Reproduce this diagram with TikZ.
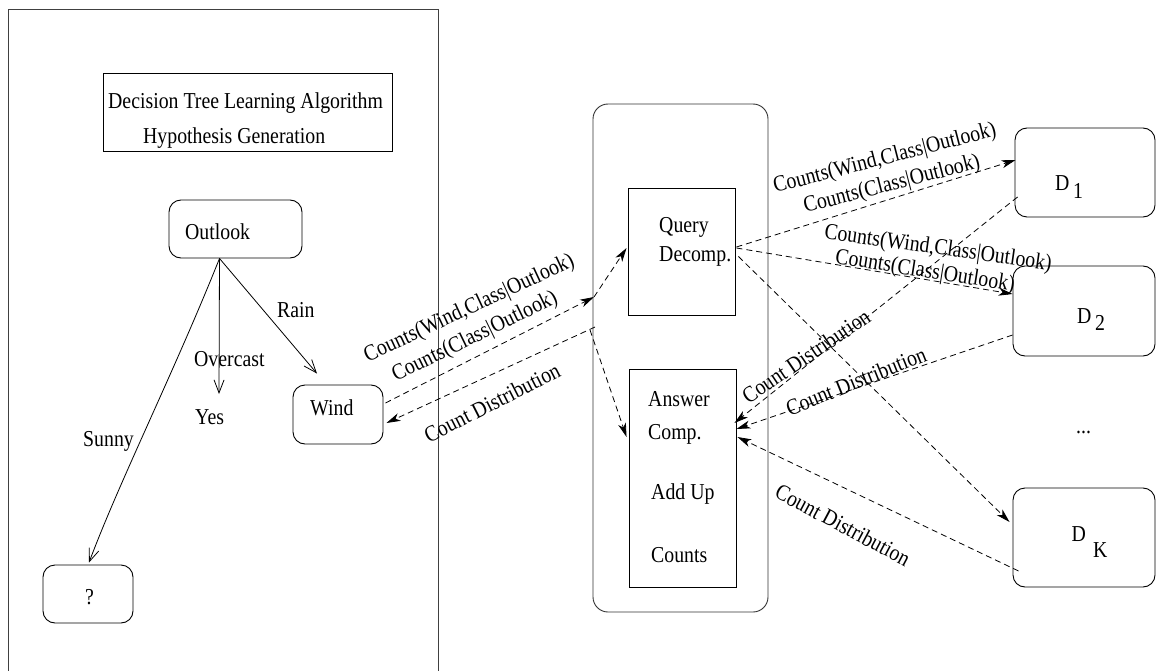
\documentclass[tikz,border=0pt]{standalone}
\usepackage{graphicx}
\usepackage{fontspec}
\setmainfont{Liberation Serif}
\usetikzlibrary{arrows.meta,calc}

% tall serif lettering
\newcommand{\hi}[1]{\scalebox{1}[1.15]{#1}}

\begin{document}
\begin{tikzpicture}[x=1pt,y=-1pt,
  txt/.style={inner sep=0pt, anchor=base west, font=\fontsize{19.8}{23}\selectfont},
  rtxt/.style={inner sep=0pt, font=\fontsize{19.8}{23}\selectfont},
  boxbase/.style={draw, line width=0.9pt, inner sep=0pt},
  rbox/.style={boxbase, rounded corners=12pt},
  sbox/.style={boxbase},
  treearrow/.style={line width=0.8pt, -{Straight Barb[length=13pt,width=10pt]}},
  msg/.style={line width=0.8pt, dash pattern=on 6pt off 4pt,
              -{Stealth[length=14pt,width=8pt,inset=4pt]}}
]
\useasboundingbox (0,0) rectangle (1156,671);
\clip (0,0) rectangle (1156,671);

% ---------- left panel: decision tree learner ----------
\draw[line width=0.9pt, black!75] (8,690) -- (8,9) -- (438,9) -- (438,690);

\node[sbox, minimum width=289pt, minimum height=78pt] (title) at (247.5,112) {};
\node[txt] (titleA) at (108,109) {\hi{Decision Tree Learning Algorithm}};
\node[txt] (titleB) at (143,144) {\hi{Hypothesis Generation}};

\node[rbox, minimum width=133pt, minimum height=58pt] (outlook) at (235.5,229) {};
\node[txt] (outlookT) at (185,239) {\hi{Outlook}};

\node[rbox, minimum width=90pt, minimum height=59pt] (wind) at (338,414.5) {};
\node[txt] (windT) at (310,415) {\hi{Wind}};

\node[rbox, minimum width=90pt, minimum height=58pt] (unknown) at (88,594) {};
\node[txt] (unknownT) at (85,604) {\hi{?}};

\node[txt] (yes) at (195,424) {\hi{Yes}};

\coordinate (fork) at ($(outlook.south)+(-16,0)$);
\coordinate (overtip) at (219,394);
\coordinate (raintip) at ($(wind.north)+(-21,-11)$);

\draw[treearrow] (fork) .. controls (175,370) and (120,480) .. ($(unknown.north)+(1,-2)$);
\draw[treearrow] (fork) -- (overtip);
\draw[treearrow] (fork) -- (raintip);

\node[txt] (sunnyL) at (83,446) {\hi{Sunny}};
\node[txt] (overL) at (194,366) {\hi{Overcast}};
\node[txt] (rainL) at (277,317) {\hi{Rain}};

% ---------- mediator ----------
\node[boxbase, rounded corners=15pt, minimum width=175pt, minimum height=508pt, black!80] (mediator) at (680.5,358) {};
\node[sbox, minimum width=107pt, minimum height=127pt] (query) at (681.5,251.5) {};
\node[txt] (queryA) at (659,233) {\hi{Query}};
\node[txt] (queryB) at (659,261) {\hi{Decomp.}};

\node[sbox, minimum width=107pt, minimum height=218pt] (answer) at (682.5,478) {};
\node[txt] (answerA) at (648,406) {\hi{Answer}};
\node[txt] (answerB) at (648,439) {\hi{Comp.}};
\node[txt] (answerC) at (651,499) {\hi{Add Up}};
\node[txt] (answerD) at (651,562.5) {\hi{Counts}};

% ---------- data sources ----------
\node[rbox, minimum width=140pt, minimum height=89pt] (d1) at (1085,172.5) {};
\node[txt] (d1D) at (1055,190) {\hi{D}};
\node[txt] (d1S) at (1073,199) {\hi{1}};

\node[rbox, minimum width=142pt, minimum height=90pt] (d2) at (1084,311) {};
\node[txt] (d2D) at (1077,323) {\hi{D}};
\node[txt] (d2S) at (1095,330) {\hi{2}};

\node[txt] (dots) at (1076,433) {\hi{...}};

\node[rbox, minimum width=142pt, minimum height=99pt] (dk) at (1084,537.5) {};
\node[txt] (dkD) at (1071.5,541) {\hi{D}};
\node[txt] (dkS) at (1093,557) {\hi{K}};

% ---------- messages ----------
\coordinate (j1) at (594,297);
\coordinate (j2a) at (595,327);
\coordinate (j2b) at (590,330);

\draw[msg] ($(wind.east)+(2,-11.5)$) -- (j1);
\draw[msg] (j1) -- ($(query.west)+(-1,-3.5)$);
\draw[msg] (j2a) -- ($(wind.east)+(3,8.5)$);
\draw[msg] (j2b) -- ($(answer.west)+(-2,-41)$);

\draw[msg] ($(query.east)+(1,-4.5)$) -- ($(d1.west)+(1,-12.5)$);
\draw[msg] ($(query.east)+(1,-3.5)$) -- ($(d2.west)+(0,-17)$);
\draw[msg] ($(query.east)+(3,5)$) -- ($(dk.west)+(-3,-15.5)$);

\draw[msg] ($(d1.west)+(3,24.5)$) -- ($(answer.east)+(-2,-55)$);
\draw[msg] ($(d2.west)+(0,24)$) -- ($(answer.east)+(0,-49)$);
\draw[msg] ($(dk.west)+(6,33.5)$) -- ($(answer.east)+(1,-41)$);

% ---------- message labels ----------
\node[rtxt, rotate=25] (lq1) at (469.5,309) {\hi{Counts(Wind,Class|Outlook)}};
\node[rtxt, rotate=26] (lq2) at (475,337) {\hi{Counts(Class|Outlook)}};
\node[rtxt, rotate=27] (lr0) at (492,402.5) {\hi{Count Distribution}};

\node[rtxt, rotate=14.5] (lq3) at (885,159) {\hi{Counts(Wind,Class|Outlook)}};
\node[rtxt, rotate=14.5] (lq4) at (892,185) {\hi{Counts(Class|Outlook)}};
\node[rtxt, rotate=-8] (lq5) at (938,249) {\hi{Counts(Wind,Class|Outlook)}};
\node[rtxt, rotate=-9] (lq6) at (925,272) {\hi{Counts(Class|Outlook)}};

\node[rtxt, rotate=34] (lr1) at (806,356) {\hi{Count Distribution}};
\node[rtxt, rotate=22] (lr2) at (856,381) {\hi{Count Distribution}};
\node[rtxt, rotate=-28] (lr3) at (843,525) {\hi{Count Distribution}};
\end{tikzpicture}
\end{document}
